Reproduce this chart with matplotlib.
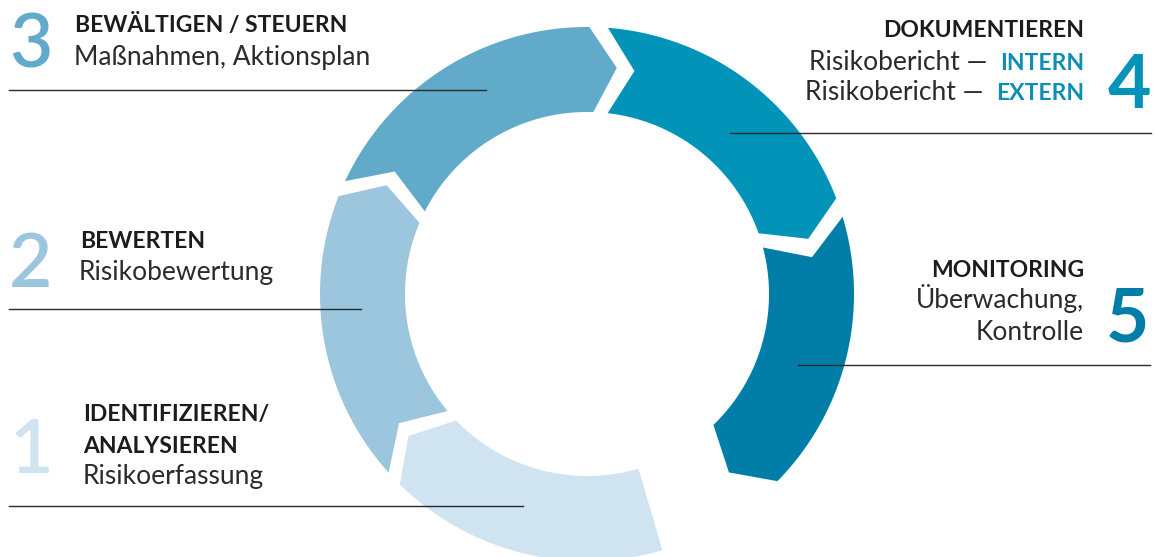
import numpy as np
import matplotlib
matplotlib.use("Agg")
import matplotlib.pyplot as plt
from matplotlib.patches import Polygon

# ---------------- data ----------------
step_numbers = ["1", "2", "3", "4", "5"]
step_titles = ["IDENTIFIZIEREN/\nANALYSIEREN", "BEWERTEN", "BEWÄLTIGEN / STEUERN",
               "DOKUMENTIEREN", "MONITORING"]
step_details = ["Risikoerfassung", "Risikobewertung", "Maßnahmen, Aktionsplan",
                None, "Überwachung,\nKontrolle"]
report_prefix = ["Risikobericht —", "Risikobericht —"]
report_kinds = ["INTERN", "EXTERN"]
# ring segments: clockwise degrees from 3 o'clock (outer edge start / end)
seg_start_deg = [73.6, 138.0, 205.0, 274.5, 343.2]
seg_end_deg = [134.5, 201.5, 270.5, 339.0, 404.5]
seg_flat_start = [True, False, False, False, False]
seg_colors = ["#CFE3F0", "#9CC6DE", "#62AAC9", "#0293B8", "#007EA7"]

# ---------------- layout ----------------
W, H = 1154, 557
plt.rcParams['font.family'] = ['Lato', 'DejaVu Sans']
fig = plt.figure(figsize=(W / 100, H / 100), dpi=100)
ax = fig.add_axes([0, 0, 1, 1])
ax.set_xlim(0, W)
ax.set_ylim(H, 0)
ax.axis('off')

cx, cy = 587, 294
r_in, r_out, r_mid = 182, 267, 228
tip = 7.0
inner_shift_start, inner_shift_end = 2.0, 1.5


def pt(t, r):
    a = np.deg2rad(t)
    return (cx + r * np.cos(a), cy + r * np.sin(a))


for s, e, flat, col in zip(seg_start_deg, seg_end_deg, seg_flat_start, seg_colors):
    verts = []
    for t in np.linspace(s, e, 120):
        verts.append(pt(t, r_out))
    verts.append(pt(e + tip, r_mid))
    s_in = s if flat else s + inner_shift_start
    for t in np.linspace(e + inner_shift_end, s_in, 120):
        verts.append(pt(t, r_in))
    if not flat:
        verts.append(pt(s + tip + 0.5, r_mid))
    ax.add_patch(Polygon(verts, closed=True, facecolor=col, edgecolor='none', zorder=1))

line_col = "#2a2a2a"
title_col = "#1c1c1c"
text_col = "#2b2b2b"
fs_title = 16.5
fs_text = 19
fs_num = 54
w_text = 'normal'
w_num = 'semibold'

# separator lines (drawn above the ring)
ax.plot([9, 486], [90, 90], color=line_col, lw=1.0, zorder=3)
ax.plot([9, 361], [309, 309], color=line_col, lw=1.0, zorder=3)
ax.plot([9, 523], [506, 506], color=line_col, lw=1.0, zorder=3)
ax.plot([730, 1151], [133, 133], color=line_col, lw=1.0, zorder=3)
ax.plot([798, 1150], [365, 365], color=line_col, lw=1.0, zorder=3)

# step 3 (top left)
ax.text(9, 68, step_numbers[2], color=seg_colors[2], fontsize=fs_num, fontweight=w_num,
        va='baseline', ha='left')
ax.text(75, 32, step_titles[2], color=title_col, fontsize=fs_title, fontweight='bold', va='baseline')
ax.text(74, 65, step_details[2], color=text_col, fontsize=fs_text, fontweight=w_text, va='baseline')

# step 2 (left)
ax.text(9, 287, step_numbers[1], color=seg_colors[1], fontsize=fs_num, fontweight=w_num,
        va='baseline', ha='left')
ax.text(80, 248, step_titles[1], color=title_col, fontsize=fs_title, fontweight='bold', va='baseline')
ax.text(79, 280, step_details[1], color=text_col, fontsize=fs_text, fontweight=w_text, va='baseline')

# step 1 (bottom left)
ax.text(9, 473, step_numbers[0], color=seg_colors[0], fontsize=fs_num, fontweight=w_num,
        va='baseline', ha='left')
t1a, t1b = step_titles[0].split("\n")
ax.text(83, 421, t1a, color=title_col, fontsize=fs_title, fontweight='bold', va='baseline')
ax.text(83, 453, t1b, color=title_col, fontsize=fs_title, fontweight='bold', va='baseline')
ax.text(83, 484, step_details[0], color=text_col, fontsize=fs_text, fontweight=w_text, va='baseline')

# step 4 (top right)
ax.text(1151, 108, step_numbers[3], color=seg_colors[3], fontsize=fs_num, fontweight='bold',
        va='baseline', ha='right')
ax.text(1084, 37, step_titles[3], color=title_col, fontsize=fs_title, fontweight='bold',
        va='baseline', ha='right')
fig.canvas.draw()
renderer = fig.canvas.get_renderer()
inv = ax.transData.inverted()
for y, pre, kind in zip([70, 100], report_prefix, report_kinds):
    tb = ax.text(1084, y, kind, color="#0E8EB6", fontsize=fs_title, fontweight='bold',
                 va='baseline', ha='right')
    bb = tb.get_window_extent(renderer=renderer)
    x0 = inv.transform((bb.x0, 0))[0]
    ax.text(x0 - 12, y, pre, color=text_col, fontsize=fs_text, fontweight=w_text,
            va='baseline', ha='right')

# step 5 (right)
ax.text(1149, 342, step_numbers[4], color=seg_colors[4], fontsize=fs_num, fontweight='bold',
        va='baseline', ha='right')
ax.text(1084, 277, step_titles[4], color=title_col, fontsize=fs_title, fontweight='bold',
        va='baseline', ha='right')
d5a, d5b = step_details[4].split("\n")
ax.text(1084, 308, d5a, color=text_col, fontsize=fs_text, fontweight=w_text, va='baseline', ha='right')
ax.text(1084, 340, d5b, color=text_col, fontsize=fs_text, fontweight=w_text, va='baseline', ha='right')

fig.savefig("out.png", dpi=100, facecolor='white')
